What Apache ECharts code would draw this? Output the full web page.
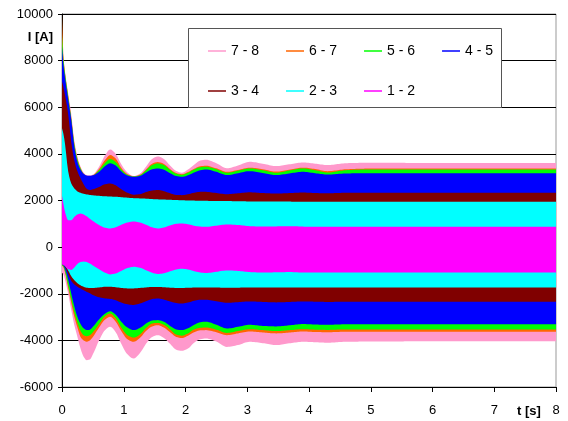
<!DOCTYPE html>
<html>
<head>
<meta charset="utf-8">
<script src="https://cdn.jsdelivr.net/npm/echarts@6/dist/echarts.min.js"></script>
<style>
  html, body { margin: 0; padding: 0; background: #fff; }
  #chart { width: 568px; height: 421px; }
</style>
</head>
<body>
<div id="chart"></div>
<script>
// Sample times [s] at which the current envelopes are given
const time = [0, 0.02, 0.05, 0.1, 0.15, 0.2, 0.25, 0.3, 0.35, 0.4, 0.45, 0.5, 0.6, 0.7, 0.78, 0.87, 0.96, 1.06, 1.16, 1.26,
  1.36, 1.46, 1.55, 1.65, 1.75, 1.85, 1.94, 2.04, 2.14, 2.24, 2.33, 2.5, 2.67, 2.85, 3.04, 3.25, 3.47, 3.7, 3.9, 4.1,
  4.3, 4.6, 5, 6, 7, 8];

// Upper / lower envelope of the 50 Hz current in each winding section [A]
const upper78 = [9000, 8200, 7500, 6600, 5700, 4550, 3900, 3450, 3200, 3090, 3080, 3110, 3450, 3950, 4190, 4000, 3550, 3200, 3050, 3150,
  3450, 3780, 3890, 3780, 3500, 3270, 3190, 3330, 3530, 3720, 3750, 3600, 3380, 3500, 3660, 3580, 3475, 3560, 3630, 3580,
  3520, 3600, 3620, 3610, 3610, 3610];
const lower78 = [-1100, -1150, -1400, -2000, -2700, -3350, -3850, -4350, -4700, -4850, -4820, -4600, -4000, -3550, -3420, -3650, -4150, -4600, -4780, -4550,
  -4150, -3850, -3775, -3900, -4150, -4400, -4450, -4350, -4100, -3950, -3920, -4050, -4280, -4200, -4060, -4120, -4200, -4120, -4060, -4080,
  -4100, -4060, -4050, -4040, -4040, -4040];

const upper67 = [9970, 8300, 7450, 6500, 5550, 4450, 3800, 3400, 3150, 3050, 3030, 3080, 3350, 3750, 3950, 3800, 3400, 3130, 3040, 3100,
  3330, 3580, 3650, 3570, 3350, 3180, 3130, 3220, 3360, 3470, 3490, 3380, 3230, 3310, 3410, 3340, 3240, 3330, 3410, 3350,
  3260, 3340, 3370, 3370, 3370, 3370];
const lower67 = [-800, -850, -1100, -1750, -2400, -3000, -3450, -3850, -4000, -4060, -4000, -3850, -3450, -3100, -2990, -3200, -3600, -3950, -4060, -3900,
  -3600, -3400, -3350, -3450, -3650, -3850, -3900, -3800, -3650, -3570, -3560, -3650, -3775, -3700, -3620, -3660, -3700, -3660, -3620, -3640,
  -3650, -3630, -3630, -3630, -3630, -3630];

const upper56 = [9100, 8100, 7400, 6450, 5500, 4400, 3750, 3370, 3130, 3040, 3020, 3060, 3300, 3620, 3780, 3650, 3330, 3100, 3030, 3080,
  3290, 3520, 3590, 3520, 3310, 3150, 3100, 3190, 3330, 3430, 3450, 3340, 3190, 3280, 3376, 3300, 3190, 3300, 3376, 3300,
  3200, 3300, 3333, 3333, 3333, 3333];
const lower56 = [-780, -820, -1050, -1650, -2250, -2800, -3250, -3600, -3780, -3820, -3780, -3650, -3300, -2950, -2850, -3050, -3450, -3780, -3880, -3750,
  -3470, -3280, -3250, -3330, -3530, -3750, -3800, -3700, -3530, -3460, -3450, -3540, -3680, -3600, -3520, -3560, -3600, -3560, -3520, -3540,
  -3550, -3530, -3530, -3530, -3530, -3530];

const upper45 = [8600, 7900, 7250, 6350, 5450, 4300, 3650, 3320, 3150, 3070, 3060, 3080, 3230, 3480, 3600, 3500, 3250, 3070, 3015, 3050,
  3200, 3340, 3375, 3320, 3170, 3050, 3015, 3080, 3200, 3300, 3333, 3230, 3090, 3170, 3260, 3180, 3090, 3170, 3230, 3170,
  3115, 3160, 3170, 3165, 3165, 3165];
const lower45 = [-750, -780, -950, -1400, -2000, -2550, -3000, -3300, -3480, -3560, -3540, -3420, -3100, -2850, -2750, -2900, -3200, -3450, -3560, -3470,
  -3280, -3150, -3130, -3200, -3380, -3530, -3560, -3480, -3330, -3220, -3200, -3330, -3490, -3420, -3330, -3380, -3400, -3350, -3300, -3320,
  -3330, -3310, -3310, -3310, -3310, -3310];

const upper34 = [7100, 6900, 6500, 5700, 4500, 3700, 3250, 2950, 2700, 2500, 2450, 2480, 2580, 2700, 2730, 2650, 2480, 2330, 2250, 2270,
  2360, 2430, 2450, 2400, 2310, 2240, 2230, 2270, 2330, 2370, 2370, 2320, 2270, 2310, 2350, 2320, 2300, 2320, 2340, 2320,
  2310, 2330, 2330, 2330, 2330, 2330];
const lower34 = [-720, -750, -850, -1150, -1450, -1600, -1700, -1780, -1850, -1920, -1980, -2050, -2150, -2200, -2220, -2280, -2380, -2450, -2480, -2420,
  -2320, -2230, -2200, -2250, -2330, -2400, -2420, -2380, -2300, -2260, -2260, -2320, -2390, -2360, -2330, -2350, -2370, -2350, -2330, -2340,
  -2350, -2345, -2345, -2345, -2345, -2345];

const upper23 = [5100, 4900, 4400, 3250, 2730, 2520, 2390, 2330, 2290, 2260, 2240, 2220, 2200, 2180, 2170, 2160, 2140, 2120, 2100, 2090,
  2080, 2060, 2050, 2040, 2030, 2020, 2010, 2000, 1995, 1990, 1985, 1980, 1975, 1970, 1960, 1958, 1955, 1952, 1950, 1950,
  1950, 1950, 1950, 1950, 1950, 1950];
const lower23 = [-700, -720, -800, -1000, -1250, -1420, -1550, -1640, -1700, -1740, -1750, -1750, -1730, -1700, -1700, -1720, -1750, -1770, -1770, -1750,
  -1730, -1710, -1710, -1720, -1740, -1750, -1750, -1745, -1735, -1730, -1730, -1735, -1740, -1738, -1735, -1735, -1735, -1735, -1735, -1735,
  -1735, -1735, -1735, -1735, -1735, -1735];

const upper12 = [2200, 1900, 1500, 1150, 1150, 1300, 1400, 1440, 1400, 1320, 1220, 1120, 950, 830, 800, 850, 960, 1060, 1100, 1060,
  960, 850, 800, 840, 930, 1000, 1015, 980, 920, 880, 870, 920, 970, 950, 900, 880, 890, 900, 880, 870,
  870, 870, 870, 870, 870, 870];
const lower12 = [-750, -770, -820, -950, -980, -870, -720, -640, -620, -640, -700, -790, -950, -1100, -1170, -1130, -1020, -900, -845, -880,
  -990, -1100, -1150, -1120, -1040, -960, -930, -960, -1030, -1090, -1110, -1060, -1000, -1020, -1070, -1090, -1080, -1070, -1090, -1090,
  -1090, -1090, -1090, -1090, -1090, -1090];

// Winding sections, back to front
const sectionNames = ['7 - 8', '6 - 7', '5 - 6', '4 - 5', '3 - 4', '2 - 3', '1 - 2'];
const sectionColors = ['#FF99CC', '#FF6600', '#00FF00', '#0000FF', '#800000', '#00FFFF', '#FF00FF'];
const uppers = [upper78, upper67, upper56, upper45, upper34, upper23, upper12];
const lowers = [lower78, lower67, lower56, lower45, lower34, lower23, lower12];

// Axis ticks
const yTicks = { min: -6000, max: 10000, step: 2000 };
const xTicks = { min: 0, max: 8, step: 1 };

const font = '"Liberation Sans", Arial, sans-serif';

// Monotone cubic curve through pixel points (x increasing), returned as a dense polyline
function monotoneCurve(p) {
  const n = p.length;
  const d = [], m = [];
  for (let k = 0; k < n - 1; k++) d.push((p[k + 1][1] - p[k][1]) / (p[k + 1][0] - p[k][0]));
  m[0] = d[0];
  m[n - 1] = d[n - 2];
  for (let k = 1; k < n - 1; k++) {
    m[k] = d[k - 1] * d[k] <= 0 ? 0 : 2 / (1 / d[k - 1] + 1 / d[k]);
  }
  const out = [p[0]];
  for (let k = 0; k < n - 1; k++) {
    const x0 = p[k][0], x1 = p[k + 1][0], y0 = p[k][1], y1 = p[k + 1][1];
    const h = x1 - x0;
    const steps = Math.max(1, Math.ceil(h / 1.5));
    for (let s = 1; s <= steps; s++) {
      const u = s / steps, u2 = u * u, u3 = u2 * u;
      const y = (2 * u3 - 3 * u2 + 1) * y0 + (u3 - 2 * u2 + u) * h * m[k] +
                (-2 * u3 + 3 * u2) * y1 + (u3 - u2) * h * m[k + 1];
      out.push([x0 + u * h, y]);
    }
  }
  return out;
}

// Each section is a filled band between its upper and lower envelope
const series = sectionNames.map((name, i) => ({
  name: name,
  type: 'custom',
  silent: true,
  clip: true,
  itemStyle: { color: sectionColors[i] },
  data: [[xTicks.min, 0]],
  renderItem: function (params, api) {
    const hi = uppers[i], lo = lowers[i];
    const top = monotoneCurve(time.map((t, k) => api.coord([t, hi[k]])));
    const bot = monotoneCurve(time.map((t, k) => api.coord([t, lo[k]])));
    return {
      type: 'polygon',
      shape: { points: top.concat(bot.reverse()) },
      style: { fill: sectionColors[i], stroke: null }
    };
  }
}));

const legendCommon = {
  left: 203, itemGap: 27, itemWidth: 18, itemHeight: 1.5, icon: 'rect',
  selectedMode: false, z: 6,
  textStyle: { fontSize: 14, fontFamily: font, color: '#000' }
};

const chart = echarts.init(document.getElementById('chart'), null, { renderer: 'canvas' });
chart.setOption({
  animation: false,
  backgroundColor: '#fff',
  grid: { left: 62, right: 12, top: 14, bottom: 34, show: true, borderColor: '#999', borderWidth: 1, backgroundColor: 'transparent' },
  xAxis: {
    type: 'value', min: xTicks.min, max: xTicks.max, interval: xTicks.step,
    axisLine: { onZero: false, lineStyle: { color: '#000', width: 1 } },
    axisTick: { show: true, length: 5, lineStyle: { color: '#000' } },
    splitLine: { show: false },
    axisLabel: { color: '#000', fontSize: 13, fontFamily: font, margin: 17 }
  },
  yAxis: {
    type: 'value', min: yTicks.min, max: yTicks.max, interval: yTicks.step,
    axisLine: { show: true, onZero: false, lineStyle: { color: '#000', width: 1 } },
    axisTick: { show: true, length: 4, lineStyle: { color: '#000' } },
    splitLine: { show: true, lineStyle: { color: '#000', width: 1 } },
    axisLabel: { color: '#000', fontSize: 13, fontFamily: font, margin: 9, formatter: v => String(v) }
  },
  legend: [
    Object.assign({ top: 39, data: sectionNames.slice(0, 4) }, legendCommon),
    Object.assign({ top: 79, data: sectionNames.slice(4) }, legendCommon)
  ],
  graphic: [
    { type: 'rect', z: 5, shape: { x: 188.5, y: 28.5, width: 313, height: 79 },
      style: { fill: '#fff', stroke: '#555', lineWidth: 1 } },
    { type: 'text', z: 5, x: 53, y: 37,
      style: { text: 'I [A]', fill: '#000', font: 'bold 13px ' + font, textAlign: 'right', textVerticalAlign: 'middle' } },
    { type: 'text', z: 5, x: 517, y: 411,
      style: { text: 't [s]', fill: '#000', font: 'bold 13px ' + font, textAlign: 'left', textVerticalAlign: 'middle' } }
  ],
  series: series
});
</script>
</body>
</html>
